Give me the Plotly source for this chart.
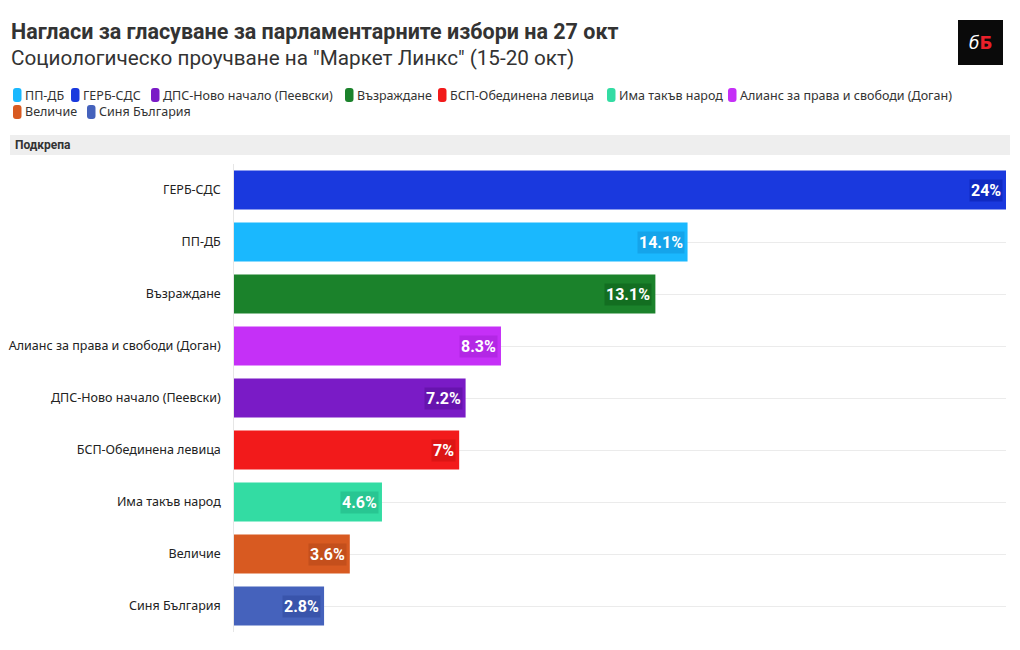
import plotly.graph_objects as go

# Data (legend order)
parties = ["ПП-ДБ", "ГЕРБ-СДС", "ДПС-Ново начало (Пеевски)", "Възраждане",
           "БСП-Обединена левица", "Има такъв народ",
           "Алианс за права и свободи (Доган)", "Величие", "Синя България"]
values = [14.1, 24, 7.2, 13.1, 7, 4.6, 8.3, 3.6, 2.8]
labels = ["14.1%", "24%", "7.2%", "13.1%", "7%", "4.6%", "8.3%", "3.6%", "2.8%"]
colors = ["#1ab8fe", "#1a39de", "#7a1bc6", "#1b822b", "#f21a1b", "#33dca3",
          "#c530f7", "#d85a21", "#4562bc"]
label_bg = ["rgba(10,120,190,0.3)", "rgba(5,25,160,0.45)", "rgba(70,10,130,0.35)",
            "rgba(8,80,20,0.4)", "rgba(170,10,10,0.3)", "rgba(15,150,110,0.3)",
            "rgba(140,20,190,0.3)", "rgba(150,55,15,0.3)", "rgba(35,60,140,0.35)"]

# Legend layout (reference pixel positions of each swatch's left edge / row centre)
legend_x = [13, 71, 151, 345, 438, 607, 728, 13, 87]
legend_y = [95, 95, 95, 95, 95, 95, 95, 112, 112]

# Category order top to bottom by value
order = [p for _, p in sorted(zip(values, parties), key=lambda t: -t[0])]

# page offset (body margin) compensation
O = 8
W, H = 1020, 650
L, T, PW, PH = 234 - O, 164 - O, 772, 468


def px(x):
    return (x - O - L) / PW


def py(y):
    return 1 - (y - O - T) / PH


fig = go.Figure()
for p, v, c in zip(parties, values, colors):
    fig.add_trace(go.Bar(
        x=[v], y=[p], orientation="h", name=p,
        marker=dict(color=c, line=dict(width=0)),
        hoverinfo="skip", showlegend=False,
    ))

# value labels, anchored at the bar end through the axes
for p, v, lab, bg in zip(parties, values, labels, label_bg):
    fig.add_annotation(x=v, y=p, xref="x", yref="y", text=f"<b>{lab}</b>",
                       showarrow=False, xanchor="right", yanchor="middle",
                       xshift=-3, bgcolor=bg, borderpad=1,
                       font=dict(family="Roboto", size=16, color="white"))

fig.update_layout(
    width=W, height=H,
    paper_bgcolor="white", plot_bgcolor="white",
    margin=dict(l=L, r=W - L - PW, t=T, b=H - T - PH, autoexpand=False),
    barmode="overlay", bargap=0.25,
    font=dict(family="Roboto", color="#333333"),
    showlegend=False,
    xaxis=dict(range=[0, 24], showgrid=False, showticklabels=False,
               zeroline=False, fixedrange=True, automargin=False),
    yaxis=dict(categoryorder="array", categoryarray=order[::-1],
               showgrid=True, gridcolor="#ebebeb", gridwidth=1,
               showline=True, linecolor="#e6e6e6", ticks="",
               tickfont=dict(family="Noto Sans", size=12.5, color="#222222"),
               ticksuffix="   ", fixedrange=True, automargin=False),
)


# Custom legend: rounded swatches + labels
def rounded_rect(x0, y0, x1, y1, r):
    X = lambda v: px(v)
    Y = lambda v: py(v)
    return (f"M {X(x0 + r)},{Y(y0)} L {X(x1 - r)},{Y(y0)} Q {X(x1)},{Y(y0)} {X(x1)},{Y(y0 + r)} "
            f"L {X(x1)},{Y(y1 - r)} Q {X(x1)},{Y(y1)} {X(x1 - r)},{Y(y1)} "
            f"L {X(x0 + r)},{Y(y1)} Q {X(x0)},{Y(y1)} {X(x0)},{Y(y1 - r)} "
            f"L {X(x0)},{Y(y0 + r)} Q {X(x0)},{Y(y0)} {X(x0 + r)},{Y(y0)} Z")


for p, c, lx, ly in zip(parties, colors, legend_x, legend_y):
    fig.add_shape(type="path", xref="paper", yref="paper",
                  path=rounded_rect(lx, ly - 7, lx + 8.5, ly + 7, 3),
                  fillcolor=c, line=dict(width=0))
    fig.add_annotation(text=p, xref="paper", yref="paper", x=px(lx + 10), y=py(ly),
                       showarrow=False, xanchor="left", yanchor="middle",
                       font=dict(family="Noto Sans", size=12.5, color="#333333"))

# Title & subtitle
fig.add_annotation(text="<b>Нагласи за гласуване за парламентарните избори на 27 окт</b>",
                   xref="paper", yref="paper", x=px(9), y=py(31),
                   showarrow=False, xanchor="left", yanchor="middle",
                   font=dict(family="Roboto", size=21.5, color="#333333"))
fig.add_annotation(text="Социологическо проучване на \"Маркет Линкс\" (15-20 окт)",
                   xref="paper", yref="paper", x=px(9), y=py(58),
                   showarrow=False, xanchor="left", yanchor="middle",
                   font=dict(family="Roboto", size=20.7, color="#333333"))

# Header band
fig.add_shape(type="rect", xref="paper", yref="paper",
              x0=px(10), x1=px(1010), y0=py(155), y1=py(135),
              fillcolor="#eeeeee", line=dict(width=0), layer="below")
fig.add_annotation(text="<b>Подкрепа</b>", xref="paper", yref="paper",
                   x=px(13), y=py(145), showarrow=False,
                   xanchor="left", yanchor="middle",
                   font=dict(family="Roboto", size=12, color="#333333"))

# Logo
fig.add_shape(type="rect", xref="paper", yref="paper",
              x0=px(958), x1=px(1003), y0=py(65), y1=py(20),
              fillcolor="#0a0a0a", line=dict(width=0))
fig.add_annotation(text="<i>б</i><span style='color:#e8202a'><b>Б</b></span>",
                   xref="paper", yref="paper", x=px(980.5), y=py(43),
                   showarrow=False, xanchor="center", yanchor="middle",
                   font=dict(family="DejaVu Sans", size=17, color="white"))

fig.write_html("out.html")
